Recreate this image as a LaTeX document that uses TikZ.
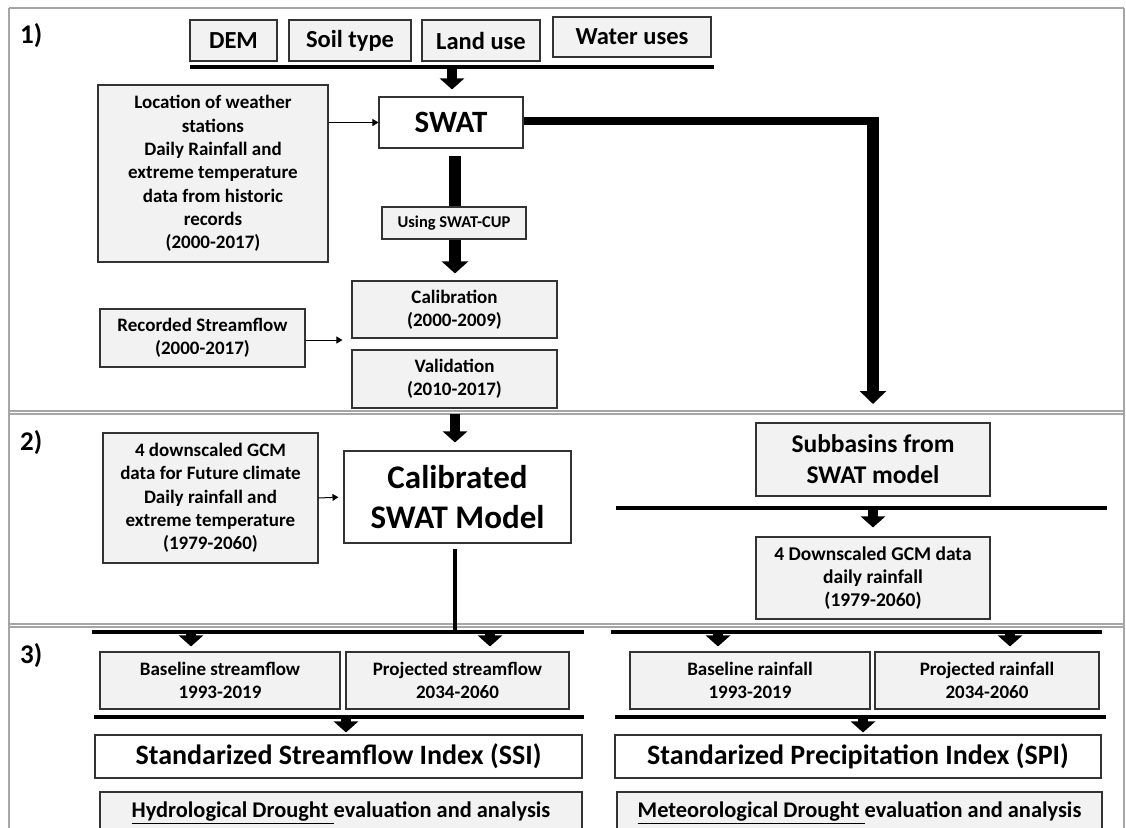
\documentclass[tikz,border=0pt]{standalone}
\usepackage{fontspec}
\setmainfont{Carlito}
\usetikzlibrary{arrows.meta}
\newcommand{\setfs}[2]{\fontsize{#1}{#2}\selectfont}
\definecolor{boxgray}{HTML}{F2F2F2}
\definecolor{framegray}{HTML}{A6A6A6}
\definecolor{edge}{HTML}{333333}
\tikzset{
  gbox/.style={draw=edge, line width=1.1pt, fill=boxgray, align=center, inner sep=0pt},
  wbox/.style={gbox, fill=white},
  bar/.style={line width=4pt},
  blk/.style={line width=10pt, -{Triangle[width=24pt,length=11pt]}},
  thinarr/.style={line width=1pt, -{Triangle[width=7pt,length=6pt]}},
  frame/.style={draw=framegray, line width=1.2pt},
  plabel/.style={font=\bfseries\setfs{27}{30}, inner sep=0pt, anchor=base west},
  ftop/.style={font=\bfseries\setfs{24.5}{29}},
  fmid/.style={font=\bfseries\setfs{19}{23.3}},
}
\begin{document}
\begin{tikzpicture}[x=1pt,y=-1pt]
\useasboundingbox (0,0) rectangle (1126,827);
\clip (0,0) rectangle (1126,827);
% frame
\draw[frame] (9,8) -- (1124,8);
\draw[frame] (9,8) -- (9,830);
\draw[frame] (1124,8) -- (1124,830);
\draw[frame] (9,411) -- (1124,411);
\draw[frame] (9,414) -- (1124,414);
\draw[frame] (9,624) -- (1124,624);
\draw[frame] (9,627) -- (1124,627);
% labels
\node[plabel] (l1) at (20,43) {1)};
\node[plabel] (l2) at (20,450) {2)};
\node[plabel] (l3) at (20,663) {3)};
% panel 1
\node[gbox, ftop, minimum width=87pt, minimum height=41pt] (dem) at (233.5,40.5) {DEM};
\node[gbox, ftop, minimum width=122pt, minimum height=41pt] (soil) at (350,40.5) {Soil type};
\node[gbox, ftop, minimum width=118pt, minimum height=41pt] (land) at (481,40.5) {Land use};
\node[gbox, ftop, minimum width=158pt, minimum height=40pt] (water) at (632,37) {Water uses};
\coordinate (b1L) at (190,67);
\coordinate (b1R) at (714,67);
\coordinate (b1M) at (452,67);
\draw[bar] (b1L) -- (b1R);
\node[wbox, font=\bfseries\setfs{31}{36}, minimum width=144pt, minimum height=51pt] (swat) at (451,122.5) {SWAT};
\draw[blk, shorten >=7pt] (b1M) -- (b1M |- swat.north);
\node[gbox, fmid, minimum width=230pt, minimum height=177pt] (loc) at (213,173.5) {Location of weather\\stations\\Daily Rainfall and\\extreme temperature\\data from historic\\records\\(2000-2017)};
\draw[thinarr] (loc.east |- swat.west) -- (swat.west);
\coordinate (c1) at (879,121);
\coordinate (c2) at (873,117);
\coordinate (c3) at (873,404);
\draw[line width=8pt] (swat.east |- c1) -- (c1);
\draw[line width=12pt, -{Triangle[width=26pt,length=13pt]}] (c2) -- (c3);
\node[gbox, font=\bfseries\setfs{16.5}{20}, minimum width=144pt, minimum height=32pt] (cup) at (454,223) {Using SWAT-CUP};
\coordinate (s1) at (455,156);
\draw[line width=12pt] (s1) -- (s1 |- cup.north);
\node[gbox, fmid, minimum width=205pt, minimum height=57pt] (calib) at (454.5,309.5) {Calibration\\(2000-2009)};
\node[gbox, fmid, minimum width=205pt, minimum height=58pt] (valid) at (454.5,379) {Validation\\(2010-2017)};
\draw[line width=12pt, -{Triangle[width=26pt,length=12pt]}, shorten >=7pt] (cup.south -| s1) -- (calib.north -| s1);
\node[gbox, fmid, minimum width=205pt, minimum height=58pt] (rec) at (202.5,338) {Recorded Streamflow\\(2000-2017)};
\draw[thinarr, shorten >=9pt] ([yshift=-2pt]rec.east) -- ([yshift=-2pt]rec.east -| calib.west);
% panel 2
\node[gbox, fmid, minimum width=215pt, minimum height=130pt] (gcm) at (210.5,498) {4 downscaled GCM\\data for Future climate\\Daily rainfall and\\extreme temperature\\(1979-2060)};
\node[wbox, font=\bfseries\setfs{33}{40}, minimum width=227pt, minimum height=92pt] (cswat) at (457.5,497) {Calibrated\\SWAT Model};
\coordinate (p2) at (455,414);
\draw[blk, shorten >=8pt] (p2) -- (p2 |- cswat.north);
\draw[thinarr, shorten >=5pt] (gcm.east) -- (cswat.west);
\node[gbox, font=\bfseries\setfs{25.5}{31}, minimum width=234pt, minimum height=73pt] (sub) at (873,459.5) {Subbasins from\\SWAT model};
\coordinate (b2L) at (616,508);
\coordinate (b2R) at (1107,508);
\coordinate (b2M) at (873,508);
\draw[bar] (b2L) -- (b2R);
\node[gbox, font=\bfseries\setfs{19.5}{23.3}, minimum width=234pt, minimum height=82pt] (gcm2) at (873,578) {4 Downscaled GCM data\\daily rainfall\\(1979-2060)};
\draw[blk, shorten >=9pt] (b2M) -- (gcm2.north);
% panel 3 left
\coordinate (b3L) at (92,632);
\coordinate (b3R) at (584,632);
\coordinate (j) at (455,632);
\draw[line width=3.5pt, shorten <=5pt] (cswat.south -| j) -- (j);
\draw[bar] (b3L) -- (b3R);
\node[gbox, fmid, minimum width=240pt, minimum height=57pt] (bsf) at (220,680.5) {Baseline streamflow\\1993-2019};
\node[gbox, fmid, minimum width=223pt, minimum height=57pt] (psf) at (457.5,680.5) {Projected streamflow\\2034-2060};
\coordinate (a1) at (191,632);
\coordinate (a2) at (490,632);
\draw[blk, shorten >=5pt] (a1) -- (a1 |- bsf.north);
\draw[blk, shorten >=5pt] (a2) -- (a2 |- psf.north);
\coordinate (b4L) at (94,717);
\coordinate (b4R) at (584,717);
\coordinate (a3) at (346,717);
\draw[bar] (b4L) -- (b4R);
\node[wbox, font=\bfseries\setfs{28}{33}, minimum width=487pt, minimum height=43pt] (ssi) at (338.5,756.5) {Standarized Streamflow Index (SSI)};
\draw[blk, shorten >=2pt] (a3) -- (a3 |- ssi.north);
\node[gbox, font=\bfseries\setfs{22.4}{27}, minimum width=482pt, minimum height=42pt] (hydro) at (341,813) {\underline{Hydrological Drought }evaluation and analysis};
% panel 3 right
\coordinate (b3Lr) at (611,632);
\coordinate (b3Rr) at (1102,632);
\draw[bar] (b3Lr) -- (b3Rr);
\node[gbox, fmid, minimum width=240pt, minimum height=57pt] (brf) at (750,680.5) {Baseline rainfall\\1993-2019};
\node[gbox, fmid, minimum width=224pt, minimum height=57pt] (prf) at (987,680.5) {Projected rainfall\\2034-2060};
\coordinate (a4) at (718,632);
\coordinate (a5) at (1010,632);
\draw[blk, shorten >=5pt] (a4) -- (a4 |- brf.north);
\draw[blk, shorten >=5pt] (a5) -- (a5 |- prf.north);
\coordinate (b4Lr) at (615,717);
\coordinate (b4Rr) at (1106,717);
\coordinate (a6) at (863,717);
\draw[bar] (b4Lr) -- (b4Rr);
\node[wbox, font=\bfseries\setfs{28}{33}, minimum width=486pt, minimum height=43pt] (spi) at (858,756.5) {Standarized Precipitation Index (SPI)};
\draw[blk, shorten >=2pt] (a6) -- (a6 |- spi.north);
\node[gbox, font=\bfseries\setfs{22.4}{27}, minimum width=485pt, minimum height=42pt] (meteo) at (859.5,813) {\underline{Meteorological Drought }evaluation and analysis};
\end{tikzpicture}
\end{document}
